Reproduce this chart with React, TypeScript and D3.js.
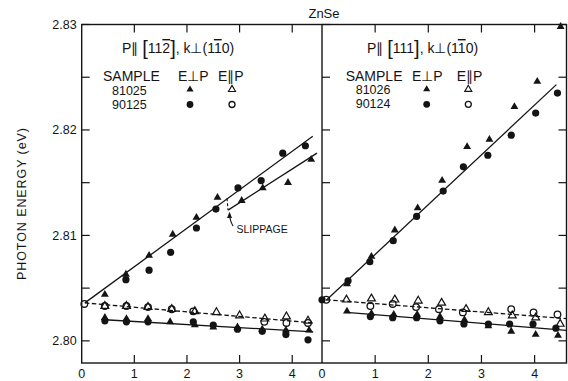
import React from 'react';
import * as d3 from 'd3';

type Pt = [number, number];

// ---------- left panel: P || [11-2], k _|_ (1-10) ----------
const leftRiseTri: Pt[] = [
  [0.44, 2.8044], [0.84, 2.8063], [1.28, 2.8081], [1.73, 2.8101], [2.18, 2.8117],
  [2.58, 2.8136], [3.04, 2.8133], [3.44, 2.8145], [3.92, 2.8150], [4.36, 2.8172],
];
const leftRiseDot: Pt[] = [
  [0.84, 2.8058], [1.28, 2.8067], [1.69, 2.8084], [2.18, 2.8107], [2.55, 2.8125],
  [2.97, 2.8145], [3.41, 2.8152], [3.82, 2.8178], [4.25, 2.8185],
];
const leftFlatTri: Pt[] = [
  [0.44, 2.8022], [0.85, 2.8021], [1.26, 2.8021], [1.68, 2.8018], [2.15, 2.8015],
  [2.50, 2.8013], [2.96, 2.8013], [3.43, 2.8011], [3.88, 2.8010], [4.32, 2.8010],
];
const leftFlatDot: Pt[] = [
  [0.44, 2.8019], [0.85, 2.8018], [1.26, 2.8018], [2.12, 2.8018], [2.50, 2.8015],
  [2.96, 2.8011], [3.43, 2.8009], [3.88, 2.8006], [4.30, 2.8001],
];
const leftOpenTri: Pt[] = [
  [0.44, 2.8033], [0.85, 2.8033], [1.26, 2.8032], [1.71, 2.8030], [2.15, 2.8028],
  [2.56, 2.8027], [3.00, 2.8024], [3.48, 2.8021], [3.89, 2.8023], [4.30, 2.8019],
];
const leftOpenDot: Pt[] = [
  [0.05, 2.8035], [0.44, 2.8033], [0.85, 2.8033], [1.26, 2.8032], [1.71, 2.8030],
  [2.12, 2.8028], [3.47, 2.8018], [3.89, 2.8017], [4.30, 2.8017],
];
const leftRiseLine: Pt[] = [[0.06, 2.8036], [4.39, 2.8194]];
const leftSlipLine: Pt[] = [[2.78, 2.8124], [4.47, 2.8178]];
const leftFlatLine: Pt[] = [[0.44, 2.8020], [4.40, 2.80085]];
const leftDashLine: Pt[] = [[0.06, 2.8036], [4.40, 2.8017]];
const slipAt = 2.78;

// ---------- right panel: P || [111], k _|_ (1-10) ----------
const rightRiseTri: Pt[] = [
  [0.47, 2.8054], [0.93, 2.8080], [1.37, 2.8105], [1.80, 2.8126], [2.26, 2.8152],
  [2.73, 2.8184], [3.15, 2.8191], [3.62, 2.8222], [4.05, 2.8246], [4.49, 2.8298],
];
const rightRiseDot: Pt[] = [
  [0.0, 2.8039], [0.49, 2.8057], [0.90, 2.8075], [1.34, 2.8095], [1.78, 2.8118],
  [2.28, 2.8142], [2.66, 2.8165], [3.12, 2.8176], [3.56, 2.8195], [4.02, 2.8216],
  [4.43, 2.8235],
];
const rightFlatTri: Pt[] = [
  [0.47, 2.8028], [0.93, 2.8026], [1.35, 2.8025], [1.79, 2.8025], [2.22, 2.8023],
  [2.68, 2.8020], [3.13, 2.8014], [3.56, 2.8009], [4.02, 2.8006], [4.44, 2.8005],
];
const rightFlatDot: Pt[] = [
  [0.91, 2.8023], [1.33, 2.8022], [1.78, 2.8022], [2.22, 2.8019], [2.67, 2.8016],
  [3.13, 2.8016], [3.53, 2.8016], [3.97, 2.8016], [4.40, 2.8012],
];
const rightOpenTri: Pt[] = [
  [0.46, 2.8039], [0.93, 2.8040], [1.37, 2.8039], [1.81, 2.8038], [2.25, 2.8036],
  [2.71, 2.8030], [3.13, 2.8027], [3.58, 2.8024], [4.02, 2.8022], [4.48, 2.8016],
];
const rightOpenDot: Pt[] = [
  [0.08, 2.8039], [0.91, 2.8033], [1.33, 2.8035], [1.77, 2.8032], [2.20, 2.8030],
  [2.65, 2.8027], [3.56, 2.8030], [3.98, 2.8027], [4.43, 2.8025],
];
const rightRiseLine: Pt[] = [[0.08, 2.80385], [4.41, 2.8243]];
const rightFlatLine: Pt[] = [[0.46, 2.8027], [4.60, 2.8010]];
const rightDashLine: Pt[] = [[0.08, 2.8039], [4.60, 2.8021]];

// ---------- axes ----------
const xTicks = [1, 2, 3, 4];
const xLabels = [0, 1, 2, 3, 4];
const yTicks = [2.80, 2.805, 2.81, 2.815, 2.82, 2.825, 2.83];
const yLabels = [2.80, 2.81, 2.82, 2.83];

const W = 568, H = 381;
const FONT = '"Liberation Sans", Arial, sans-serif';
const INK = '#141414';

const y = d3.scaleLinear().domain([2.7979, 2.83]).range([363, 24.5]);
const xL = d3.scaleLinear().domain([0, 4.56]).range([81.7, 321.7]);
const xR = d3.scaleLinear().domain([0, 4.6]).range([322, 566.5]);

const triPath = d3.symbol().type(d3.symbolTriangle).size(27)();
const triSmall = d3.symbol().type(d3.symbolTriangle).size(22)();

const Marks = ({ x, data, kind }: { x: d3.ScaleLinear<number, number>; data: Pt[]; kind: string }) => (
  <g>
    {data.map((d, i) => {
      const cx = x(d[0]), cy = y(d[1]);
      if (kind === 'tri') return <path key={i} d={triPath!} transform={`translate(${cx},${cy})`} fill={INK} />;
      if (kind === 'otri') return <path key={i} d={triPath!} transform={`translate(${cx},${cy})`} fill="none" stroke={INK} strokeWidth={1.2} />;
      if (kind === 'dot') return <circle key={i} cx={cx} cy={cy} r={3.6} fill={INK} />;
      return <circle key={i} cx={cx} cy={cy} r={3.3} fill="none" stroke={INK} strokeWidth={1.3} />;
    })}
  </g>
);

const Seg = ({ x, d, dash }: { x: d3.ScaleLinear<number, number>; d: Pt[]; dash?: boolean }) => {
  const line = d3.line<Pt>().x(p => x(p[0])).y(p => y(p[1]));
  return <path d={line(d)!} fill="none" stroke={INK} strokeWidth={1.3} strokeDasharray={dash ? '4.5,2.5' : undefined} />;
};

const at = (l: Pt[], v: number) => l[0][1] + (v - l[0][0]) * (l[1][1] - l[0][1]) / (l[1][0] - l[0][0]);

export default function App() {
  const left = xL.range()[0], mid = xR.range()[0], right = xR.range()[1];
  const top = y.range()[1], bot = y.range()[0];
  const tk = 8;

  // slippage annotation anchored to the data scale
  const sx = xL(slipAt);
  const sTop = y(at(leftRiseLine, slipAt));
  const sBot = y(leftSlipLine[0][1]);

  return (
    <svg width={W} height={H} style={{ position: 'absolute', left: 0, top: 0, background: '#fff' }}
      fontFamily={FONT} fill={INK}>
      <defs>
        <marker id="arr" viewBox="0 0 10 10" refX="8" refY="5" markerWidth="6" markerHeight="6" orient="auto">
          <path d="M0,1 L10,5 L0,9 Z" fill={INK} />
        </marker>
      </defs>
      <rect width={W} height={H} fill="#fff" />

      {/* title */}
      <text x={324} y={18} textAnchor="middle" fontSize={13}>ZnSe</text>

      {/* y axis label */}
      <text transform="translate(26,204) rotate(-90)" textAnchor="middle" fontSize={12.5}
        textLength={152} lengthAdjust="spacing">PHOTON ENERGY (eV)</text>

      {/* frame */}
      <g stroke={INK} strokeWidth={1.4} fill="none">
        <rect x={left} y={top} width={right - left} height={bot - top} />
        <line x1={mid} x2={mid} y1={top} y2={bot} />
      </g>

      {/* ticks */}
      <g stroke={INK} strokeWidth={1.2}>
        {yTicks.map(t => (
          <g key={t}>
            <line x1={left} x2={left + tk} y1={y(t)} y2={y(t)} />
            <line x1={mid} x2={mid + tk} y1={y(t)} y2={y(t)} />
            <line x1={right} x2={right - tk} y1={y(t)} y2={y(t)} />
          </g>
        ))}
        {xTicks.map(t => (
          <g key={t}>
            <line x1={xL(t)} x2={xL(t)} y1={bot} y2={bot - tk} />
            <line x1={xL(t)} x2={xL(t)} y1={top} y2={top + tk} />
            <line x1={xR(t)} x2={xR(t)} y1={bot} y2={bot - tk} />
            <line x1={xR(t)} x2={xR(t)} y1={top} y2={top + tk} />
          </g>
        ))}
      </g>
      <g fontSize={12.5}>
        {yLabels.map(t => (
          <text key={t} x={left - 5} y={y(t)} dy="0.36em" textAnchor="end">{t.toFixed(2)}</text>
        ))}
        {xLabels.map(t => (
          <g key={t}>
            <text x={xL(t)} y={377.5} textAnchor="middle">{t}</text>
            <text x={xR(t)} y={377.5} textAnchor="middle">{t}</text>
          </g>
        ))}
      </g>

      {/* left panel legend */}
      <text x={122} y={53} fontSize={14}>
        P∥ <tspan fontSize={20} dy={2}>[</tspan><tspan dy={-2}>11</tspan>
        <tspan textDecoration="overline">2</tspan><tspan fontSize={20} dy={2}>]</tspan>
        <tspan dy={-2}>, k⊥(1</tspan><tspan textDecoration="overline">1</tspan>0)
      </text>
      <text x={103} y={81} fontSize={14}>SAMPLE</text>
      <text x={178} y={81} fontSize={14}>E⊥P</text>
      <text x={218} y={81} fontSize={14}>E∥P</text>
      <text x={112} y={94.5} fontSize={12.5}>81025</text>
      <text x={112} y={109} fontSize={12.5}>90125</text>
      <path d={triSmall!} transform="translate(190,89.5)" fill={INK} />
      <path d={triSmall!} transform="translate(232,89.5)" fill="none" stroke={INK} strokeWidth={1.1} />
      <circle cx={190} cy={104.5} r={3.4} fill={INK} />
      <circle cx={232} cy={104.5} r={3} fill="none" stroke={INK} strokeWidth={1.3} />

      {/* right panel legend */}
      <text x={367} y={53} fontSize={14}>
        P∥ <tspan fontSize={20} dy={2}>[</tspan><tspan dy={-2}>111</tspan>
        <tspan fontSize={20} dy={2}>]</tspan>
        <tspan dy={-2}>, k⊥(1</tspan><tspan textDecoration="overline">1</tspan>0)
      </text>
      <text x={345.7} y={81} fontSize={14}>SAMPLE</text>
      <text x={412} y={81} fontSize={14}>E⊥P</text>
      <text x={456.7} y={81} fontSize={14}>E∥P</text>
      <text x={355.7} y={93.5} fontSize={12.5}>81026</text>
      <text x={355.7} y={108} fontSize={12.5}>90124</text>
      <path d={triSmall!} transform="translate(426.7,89.3)" fill={INK} />
      <path d={triSmall!} transform="translate(468.3,89.3)" fill="none" stroke={INK} strokeWidth={1.1} />
      <circle cx={426.7} cy={104.3} r={3.4} fill={INK} />
      <circle cx={468.3} cy={104.3} r={3} fill="none" stroke={INK} strokeWidth={1.3} />

      {/* left panel data */}
      <Seg x={xL} d={leftRiseLine} />
      <Seg x={xL} d={leftSlipLine} />
      <Seg x={xL} d={leftFlatLine} />
      <Seg x={xL} d={leftDashLine} dash />
      <Marks x={xL} data={leftOpenDot} kind="odot" />
      <Marks x={xL} data={leftOpenTri} kind="otri" />
      <Marks x={xL} data={leftRiseDot} kind="dot" />
      <Marks x={xL} data={leftRiseTri} kind="tri" />
      <Marks x={xL} data={leftFlatDot} kind="dot" />
      <Marks x={xL} data={leftFlatTri} kind="tri" />

      {/* slippage */}
      <line x1={sx - 1} x2={sx} y1={sTop} y2={sBot} stroke={INK} strokeWidth={1.1} strokeDasharray="3,2" />
      <path d={`M${sx + 5},${sBot + 16} Q${sx + 1.5},${sBot + 10} ${sx + 1.5},${sBot + 3}`}
        fill="none" stroke={INK} strokeWidth={1.1} markerEnd="url(#arr)" />
      <text x={sx + 8.5} y={sBot + 23} fontSize={10.5}>SLIPPAGE</text>

      {/* right panel data */}
      <Seg x={xR} d={rightRiseLine} />
      <Seg x={xR} d={rightFlatLine} />
      <Seg x={xR} d={rightDashLine} dash />
      <Marks x={xR} data={rightOpenDot} kind="odot" />
      <Marks x={xR} data={rightOpenTri} kind="otri" />
      <Marks x={xR} data={rightRiseDot} kind="dot" />
      <Marks x={xR} data={rightRiseTri} kind="tri" />
      <Marks x={xR} data={rightFlatDot} kind="dot" />
      <Marks x={xR} data={rightFlatTri} kind="tri" />
    </svg>
  );
}
